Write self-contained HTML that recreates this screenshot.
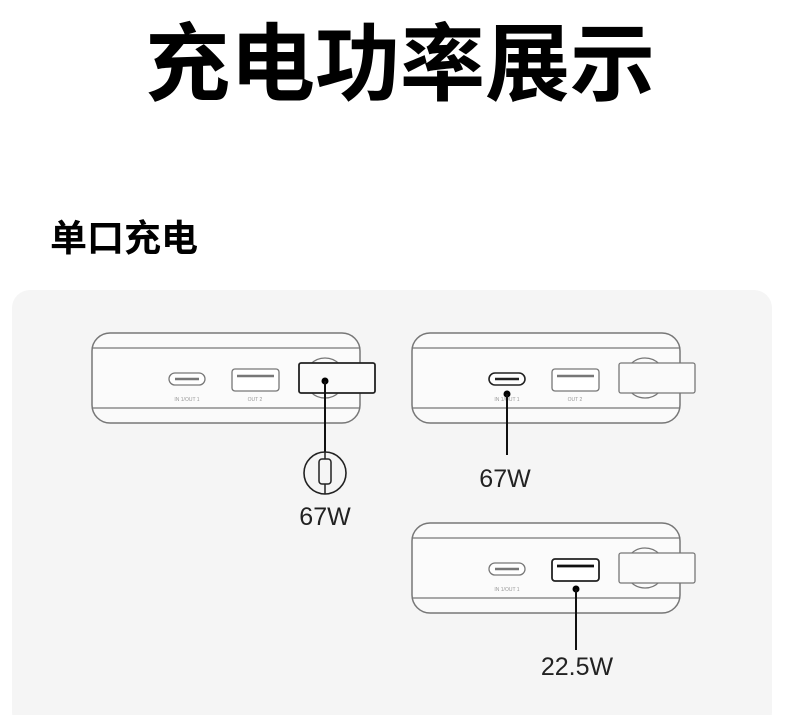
<!DOCTYPE html>
<html><head><meta charset="utf-8"><style>
html,body{margin:0;padding:0;background:#fff;}
body{width:800px;height:715px;overflow:hidden;position:relative;font-family:"Liberation Sans","Noto Sans CJK SC",sans-serif;}
</style></head><body>
<svg width="800" height="715" viewBox="0 0 800 715" xmlns="http://www.w3.org/2000/svg" style="position:absolute;left:0;top:0">
<rect x="12" y="290" width="760" height="440" rx="18" fill="#f5f5f5"/>
<text x="400" y="94" text-anchor="middle" font-family="Noto Sans CJK SC, sans-serif" font-weight="bold" font-size="85" fill="#000">充电功率展示</text>
<text x="50" y="251" font-family="Noto Sans CJK SC, sans-serif" font-weight="bold" font-size="37" fill="#000">单口充电</text>
<defs>
<g id="dev">
<rect x="92" y="333" width="268" height="90" rx="18" fill="#fafafa" stroke="#777" stroke-width="1.5"/>
<line x1="93" y1="348" x2="359" y2="348" stroke="#777" stroke-width="1.2"/>
<line x1="93" y1="408" x2="359" y2="408" stroke="#777" stroke-width="1.2"/>
<rect x="94" y="349" width="264" height="58" fill="#fbfbfb"/>
<circle cx="325" cy="378" r="20" fill="#fbfbfb" stroke="#777" stroke-width="1.2"/>
<text x="187" y="401" text-anchor="middle" font-size="5" fill="#999">IN 1/OUT 1</text>
</g>
</defs>
<!-- Device 1 -->
<use href="#dev"/>
<rect x="169" y="373" width="36" height="12" rx="6" fill="#fff" stroke="#777" stroke-width="1.3"/>
<line x1="175" y1="379" x2="199" y2="379" stroke="#777" stroke-width="2.5"/>
<rect x="232" y="369" width="47" height="22" rx="3" fill="#fff" stroke="#777" stroke-width="1.3"/>
<line x1="237" y1="376" x2="274" y2="376" stroke="#777" stroke-width="2.5"/>
<text x="255" y="401" text-anchor="middle" font-size="5" fill="#999">OUT 2</text>
<rect x="299" y="363" width="76" height="30" rx="2" fill="#fafafa" stroke="#222" stroke-width="1.8"/>
<circle cx="325" cy="381" r="3.5" fill="#000"/>
<line x1="325" y1="381" x2="325" y2="452" stroke="#111" stroke-width="2"/>
<circle cx="325" cy="473" r="21" fill="none" stroke="#222" stroke-width="1.6"/>
<rect x="319" y="459" width="12" height="25" rx="3" fill="none" stroke="#222" stroke-width="1.5"/>
<line x1="325" y1="452" x2="325" y2="459" stroke="#222" stroke-width="1.5"/>
<line x1="325" y1="484" x2="325" y2="494" stroke="#222" stroke-width="1.5"/>
<text x="325" y="525" text-anchor="middle" font-size="25" fill="#222">67W</text>
<!-- Device 2 -->
<g transform="translate(320,0)">
<use href="#dev"/>
<rect x="169" y="373" width="36" height="12" rx="6" fill="#fff" stroke="#222" stroke-width="1.6"/>
<line x1="175" y1="379" x2="199" y2="379" stroke="#222" stroke-width="2.5"/>
<rect x="232" y="369" width="47" height="22" rx="3" fill="#fff" stroke="#777" stroke-width="1.3"/>
<line x1="237" y1="376" x2="274" y2="376" stroke="#777" stroke-width="2.5"/>
<text x="255" y="401" text-anchor="middle" font-size="5" fill="#999">OUT 2</text>
<rect x="299" y="363" width="76" height="30" rx="2" fill="#fafafa" stroke="#777" stroke-width="1.3"/>
<circle cx="187" cy="394" r="3.5" fill="#000"/>
<line x1="187" y1="394" x2="187" y2="455" stroke="#111" stroke-width="2"/>
<text x="185" y="487" text-anchor="middle" font-size="25" fill="#222">67W</text>
</g>
<!-- Device 3 -->
<g transform="translate(320,190)">
<use href="#dev"/>
<rect x="169" y="373" width="36" height="12" rx="6" fill="#fff" stroke="#777" stroke-width="1.3"/>
<line x1="175" y1="379" x2="199" y2="379" stroke="#777" stroke-width="2.5"/>
<rect x="232" y="369" width="47" height="22" rx="3" fill="#fff" stroke="#222" stroke-width="1.8"/>
<line x1="237" y1="376" x2="274" y2="376" stroke="#111" stroke-width="2.8"/>
<rect x="299" y="363" width="76" height="30" rx="2" fill="#fafafa" stroke="#777" stroke-width="1.3"/>
<circle cx="256" cy="399" r="3.5" fill="#000"/>
<line x1="256" y1="399" x2="256" y2="460" stroke="#111" stroke-width="2"/>
<text x="257" y="485" text-anchor="middle" font-size="25" fill="#222">22.5W</text>
</g>
</svg>
</body></html>
